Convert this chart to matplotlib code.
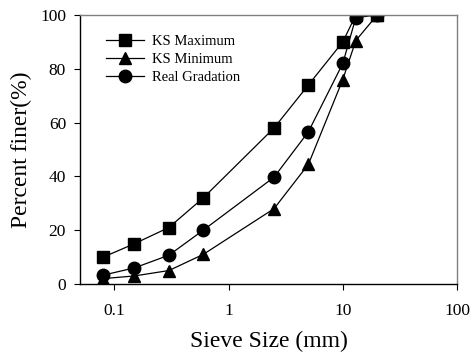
import matplotlib
matplotlib.use("Agg")
import matplotlib.pyplot as plt
from matplotlib.ticker import FixedLocator, NullLocator

sieve_sizes = [0.08, 0.15, 0.3, 0.6, 2.5, 5, 10, 13, 20]
ks_maximum = [10, 15, 21, 32, 58, 74, 90, 100, 100]
ks_minimum = [2, 3, 5, 11, 28, 44.5, 76, 90.5, 100]
real_gradation = [3.3, 6, 10.7, 20, 39.7, 56.6, 82, 99, 100]
x_ticks = [0.1, 1, 10, 100]
x_tick_labels = ["0.1", "1", "10", "100"]
y_ticks = [0, 20, 40, 60, 80, 100]

plt.rcParams['font.family'] = ['Liberation Serif', 'DejaVu Serif']

fig = plt.figure(figsize=(4.70, 3.57), dpi=100)
ax = fig.add_axes([80/470, 1 - 284/357, (457-80)/470, (284-15)/357])

ax.plot(sieve_sizes, ks_maximum, color='black', lw=0.9, marker='s', ms=8.3,
        label='KS Maximum')
ax.plot(sieve_sizes, ks_minimum, color='black', lw=0.9, marker='^', ms=9,
        label='KS Minimum')
ax.plot(sieve_sizes, real_gradation, color='black', lw=0.9, marker='o', ms=9,
        label='Real Gradation')

ax.set_xscale('log')
ax.set_xlim(0.05, 100)
ax.set_ylim(0, 100)
ax.xaxis.set_major_locator(FixedLocator(x_ticks))
ax.xaxis.set_minor_locator(NullLocator())
ax.set_xticklabels(x_tick_labels)
ax.set_yticks(y_ticks)
ax.tick_params(direction='out', length=4, width=0.8, labelsize=12.5)
ax.tick_params(axis='x', pad=10)
ax.tick_params(axis='y', pad=6)

for s in ['top', 'right']:
    ax.spines[s].set_color('#808080')
    ax.spines[s].set_linewidth(1.0)
for s in ['left', 'bottom']:
    ax.spines[s].set_color('black')
    ax.spines[s].set_linewidth(1.0)

ax.set_xlabel('Sieve Size (mm)', fontsize=17, labelpad=8)
ax.set_ylabel('Percent finer(%)', fontsize=17, labelpad=6)

leg = ax.legend(loc='upper left', bbox_to_anchor=(0.07, 0.925), frameon=False,
                fontsize=10.5, handlelength=2.6, handletextpad=0.5,
                labelspacing=0.33, borderaxespad=0, borderpad=0)

fig.savefig('out.png', dpi=100)
